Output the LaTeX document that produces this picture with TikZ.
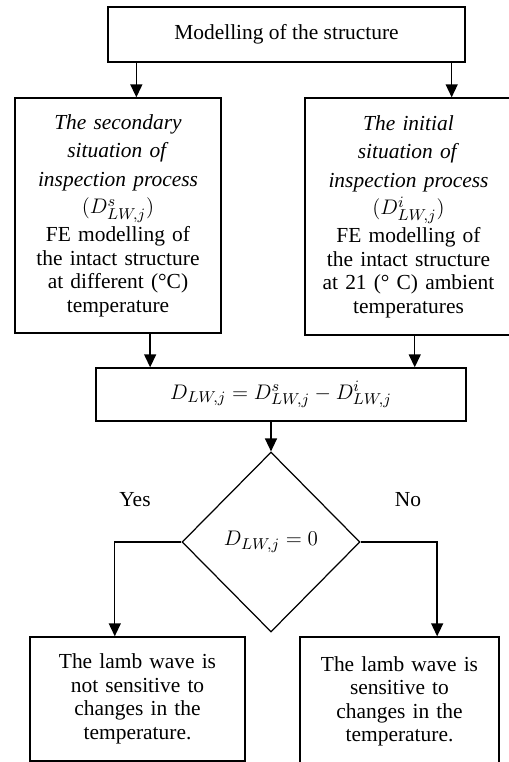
\documentclass[tikz,border=0pt]{standalone}
\usepackage{fontspec}
\setmainfont{Liberation Serif}
\usetikzlibrary{shapes,shapes.geometric,calc,arrows.meta}

\begin{document}
\begin{tikzpicture}[x=0.02cm,y=-0.02cm]
				\tikzstyle{pbox}=[rectangle, draw, line width=0.8pt, inner sep=0pt, align=center, font=\fontsize{12.2}{13.4}\selectfont]
				\tikzstyle{dbox}=[diamond, draw, line width=0.7pt, inner sep=0pt, minimum width=3.56cm, minimum height=3.6cm, font=\fontsize{12.2}{13.4}\selectfont]
				\tikzstyle{arr}=[line width=0.8pt, -{Triangle[width=0.24cm,length=0.26cm]}]
				\tikzstyle{lbl}=[font=\fontsize{12.2}{13.4}\selectfont]
				\useasboundingbox (0,0) rectangle (509,762);
				% boxes
				\node[pbox, minimum width=7.14cm, minimum height=1.1cm] (model) at (286.5,34.5) {Modelling of the structure};
				\node[pbox, minimum width=4.12cm, minimum height=4.7cm, text width=3.9cm] (second) at (118,215.5)
					{\textit{The secondary}\\[3pt] \textit{situation of}\\[3pt] \textit{inspection process}\\[2pt] $(D^{s}_{LW,j})$\\[1pt] FE modelling of\\ the intact structure\\ at different (°C)\\ temperature};
				\node[pbox, minimum width=4.14cm, minimum height=4.74cm, text width=3.9cm] (initial) at (408.5,216.5)
					{\textit{The initial}\\[3pt] \textit{situation of}\\[3pt] \textit{inspection process}\\[2pt] $(D^{i}_{LW,j})$\\[1pt] FE modelling of\\ the intact structure\\ at 21 (° C) ambient\\ temperatures};
				\node[pbox, minimum width=7.4cm, minimum height=1.06cm] (diff) at (281,394.5) {$D_{LW,j} = D^{s}_{LW,j} - D^{i}_{LW,j}$};
				\node[dbox] (check) at (271,542) {$D_{LW,j} = 0$};
				\node[pbox, minimum width=4.3cm, minimum height=2.48cm, text width=4.1cm] (notsens) at (137.5,699)
					{The lamb wave is\\ not sensitive to\\ changes in the\\ temperature.};
				\node[pbox, minimum width=3.98cm, minimum height=2.58cm, text width=3.8cm] (sens) at (399.5,701.5)
					{The lamb wave is\\ sensitive to\\ changes in the\\ temperature.};
				\node[lbl] (yes) at (135,500) {Yes};
				\node[lbl] (no) at (408,500) {No};
				% connectors
				\coordinate (m1) at ($(model.south west)!.081!(model.south east)$);
				\coordinate (m2) at ($(model.south west)!.961!(model.south east)$);
				\coordinate (s1) at ($(second.south west)!.655!(second.south east)$);
				\coordinate (i1) at ($(initial.south west)!.53!(initial.south east)$);
				\coordinate (n1) at ($(notsens.north west)!.395!(notsens.north east)$);
				\coordinate (y1) at ($(sens.north west)!.688!(sens.north east)$);
				\draw[arr] (m1) -- (m1 |- second.north);
				\draw[arr] (m2) -- (m2 |- initial.north);
				\draw[arr] (s1) -- (s1 |- diff.north);
				\draw[arr] (i1) -- (i1 |- diff.north);
				\draw[arr] (check.north |- diff.south) -- (check.north);
				\draw[arr] (check.west) -| (n1);
				\draw[arr] (check.east) -| (y1);
			\end{tikzpicture}
\end{document}
